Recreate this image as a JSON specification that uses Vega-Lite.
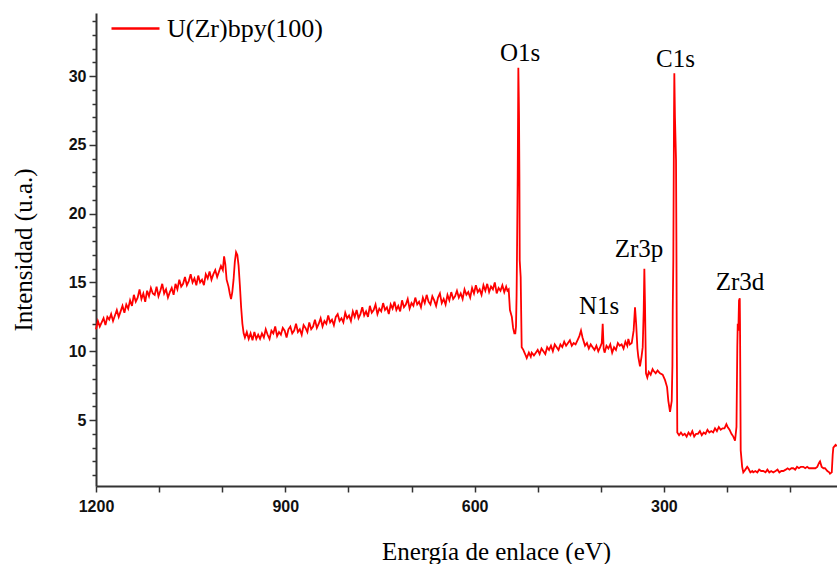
{
  "$schema": "https://vega.github.io/schema/vega-lite/v6.json",
  "width": 741,
  "height": 473,
  "autosize": {"type": "none"},
  "padding": {"left": 96, "top": 13, "right": 0, "bottom": 78},
  "background": "white",
  "config": {
    "view": {"stroke": null},
    "axis": {"grid": false, "labelOverlap": false, "labelSeparation": -40}
  },
  "datasets": {
    "spectrum": [
      {"e":1200,"i":11.6},{"e":1197,"i":12.2},{"e":1194,"i":11.8},{"e":1191,"i":12.1},{"e":1188,"i":12.4},{"e":1185,"i":11.9},{"e":1182,"i":12.5},{"e":1179,"i":12.3},{"e":1176,"i":12.7},{"e":1173,"i":12.2},{"e":1170,"i":12.6},{"e":1167,"i":13.0},{"e":1164,"i":12.5},{"e":1161,"i":12.9},{"e":1158,"i":13.3},{"e":1155,"i":12.8},{"e":1152,"i":13.4},{"e":1149,"i":13.1},{"e":1146,"i":13.7},{"e":1143,"i":13.3},{"e":1140,"i":14.1},{"e":1137,"i":13.6},{"e":1134,"i":13.9},{"e":1131,"i":14.5},{"e":1128,"i":13.8},{"e":1125,"i":14.2},{"e":1122,"i":13.6},{"e":1119,"i":14.4},{"e":1116,"i":14.0},{"e":1113,"i":14.6},{"e":1110,"i":14.2},{"e":1107,"i":14.1},{"e":1104,"i":14.7},{"e":1101,"i":14.0},{"e":1098,"i":14.4},{"e":1095,"i":14.9},{"e":1092,"i":14.2},{"e":1089,"i":14.5},{"e":1086,"i":13.9},{"e":1083,"i":14.3},{"e":1080,"i":14.6},{"e":1077,"i":14.1},{"e":1074,"i":14.9},{"e":1071,"i":14.5},{"e":1068,"i":15.2},{"e":1065,"i":14.7},{"e":1062,"i":14.9},{"e":1059,"i":15.4},{"e":1056,"i":14.8},{"e":1053,"i":15.1},{"e":1050,"i":15.6},{"e":1047,"i":15.0},{"e":1044,"i":15.3},{"e":1041,"i":14.8},{"e":1038,"i":15.5},{"e":1035,"i":15.0},{"e":1032,"i":15.2},{"e":1029,"i":14.8},{"e":1026,"i":15.6},{"e":1023,"i":15.3},{"e":1020,"i":15.8},{"e":1017,"i":15.2},{"e":1014,"i":15.6},{"e":1011,"i":15.9},{"e":1008,"i":15.4},{"e":1005,"i":15.8},{"e":1002,"i":16.2},{"e":999,"i":15.9},{"e":997,"i":16.9},{"e":995,"i":16.3},{"e":993,"i":15.2},{"e":990,"i":14.7},{"e":988,"i":14.2},{"e":986,"i":13.8},{"e":984,"i":14.3},{"e":982,"i":15.2},{"e":980,"i":16.5},{"e":978,"i":17.2},{"e":976,"i":17.0},{"e":974,"i":16.2},{"e":972,"i":14.8},{"e":970,"i":13.2},{"e":968,"i":12.0},{"e":966,"i":11.3},{"e":964,"i":11.0},{"e":961,"i":11.4},{"e":958,"i":10.9},{"e":955,"i":11.3},{"e":952,"i":10.8},{"e":949,"i":11.4},{"e":946,"i":10.9},{"e":943,"i":11.2},{"e":940,"i":10.9},
      {"e":937,"i":11.3},{"e":934,"i":11.0},{"e":931,"i":11.6},{"e":928,"i":11.2},{"e":925,"i":10.9},{"e":922,"i":11.5},{"e":919,"i":11.3},{"e":916,"i":11.8},{"e":913,"i":11.1},{"e":910,"i":11.4},{"e":907,"i":11.2},{"e":904,"i":11.7},{"e":901,"i":11.5},{"e":898,"i":11.0},{"e":895,"i":11.6},{"e":892,"i":11.8},{"e":889,"i":11.3},{"e":886,"i":11.5},{"e":883,"i":12.0},{"e":880,"i":11.4},{"e":877,"i":11.6},{"e":874,"i":11.2},{"e":871,"i":11.9},{"e":868,"i":11.7},{"e":865,"i":11.4},{"e":862,"i":12.1},{"e":859,"i":11.6},{"e":856,"i":11.8},{"e":853,"i":12.3},{"e":850,"i":11.7},{"e":847,"i":12.0},{"e":844,"i":12.4},{"e":841,"i":11.8},{"e":838,"i":12.2},{"e":835,"i":12.0},{"e":832,"i":12.6},{"e":829,"i":12.1},{"e":826,"i":12.3},{"e":823,"i":11.9},{"e":820,"i":12.5},{"e":817,"i":12.7},{"e":814,"i":12.2},{"e":811,"i":12.4},{"e":808,"i":12.1},{"e":805,"i":12.8},{"e":802,"i":12.4},{"e":799,"i":12.6},{"e":796,"i":12.2},{"e":793,"i":12.9},{"e":790,"i":12.5},{"e":787,"i":13.0},{"e":784,"i":12.4},{"e":781,"i":12.7},{"e":778,"i":13.2},{"e":775,"i":12.6},{"e":772,"i":12.9},{"e":769,"i":12.5},{"e":766,"i":13.3},{"e":763,"i":12.8},{"e":760,"i":13.0},{"e":757,"i":13.4},{"e":754,"i":12.7},{"e":751,"i":13.1},{"e":748,"i":12.9},{"e":745,"i":13.5},{"e":742,"i":13.0},{"e":739,"i":13.2},{"e":736,"i":12.7},{"e":733,"i":13.4},{"e":730,"i":13.1},{"e":727,"i":13.6},{"e":724,"i":13.0},{"e":721,"i":13.3},{"e":718,"i":12.9},{"e":715,"i":13.7},{"e":712,"i":13.2},{"e":709,"i":13.4},{"e":706,"i":13.8},{"e":703,"i":13.1},{"e":700,"i":13.5},{"e":697,"i":13.3},{"e":694,"i":13.9},{"e":691,"i":13.4},{"e":688,"i":13.6},{"e":685,"i":13.2},{"e":682,"i":13.9},{"e":679,"i":13.5},{"e":676,"i":14.1},{"e":673,"i":13.6},{"e":670,"i":13.4},{"e":667,"i":14.0},{"e":664,"i":13.7},{"e":661,"i":13.3},{"e":658,"i":13.9},{"e":655,"i":14.2},{"e":652,"i":13.5},{"e":649,"i":13.8},{"e":646,"i":13.4},{"e":643,"i":14.1},{"e":640,"i":13.7},{"e":637,"i":14.3},{"e":634,"i":13.8},{"e":631,"i":14.0},{"e":628,"i":14.4},{"e":625,"i":13.9},{"e":622,"i":14.2},{"e":619,"i":13.8},{"e":616,"i":14.5},{"e":613,"i":14.1},{"e":610,"i":14.3},{"e":607,"i":13.9},{"e":604,"i":14.6},{"e":601,"i":14.2},{"e":598,"i":14.8},{"e":595,"i":14.3},{"e":592,"i":14.5},{"e":589,"i":14.1},{"e":586,"i":14.8},{"e":583,"i":14.4},{"e":580,"i":14.9},{"e":577,"i":14.3},{"e":574,"i":14.7},{"e":571,"i":14.5},{"e":568,"i":15.0},{"e":565,"i":14.2},{"e":562,"i":14.6},{"e":559,"i":14.4},{"e":556,"i":14.8},{"e":553,"i":14.3},{"e":550,"i":14.7},{"e":548,"i":14.4},{"e":546,"i":14.5},
      {"e":544,"i":13.0},{"e":541,"i":12.5},{"e":539,"i":11.7},{"e":537,"i":11.3},{"e":535.5,"i":11.3},{"e":534.4,"i":11.8},{"e":533.5,"i":14.0},{"e":532.8,"i":17.1},{"e":531.7,"i":22.7},{"e":530.7,"i":30.6},{"e":530,"i":28.5},{"e":529.6,"i":27.0},{"e":529,"i":22.7},{"e":528.5,"i":16.6},{"e":527,"i":15.4},{"e":525.4,"i":10.3},{"e":522.8,"i":10.1},
      {"e":520,"i":9.8},{"e":517.4,"i":9.5},{"e":514,"i":9.9},{"e":511,"i":9.6},{"e":509.5,"i":9.9},{"e":506,"i":9.7},{"e":503,"i":9.9},{"e":500,"i":10.1},{"e":497,"i":9.8},{"e":494,"i":10.2},{"e":491,"i":10.0},{"e":488,"i":9.8},{"e":485,"i":10.3},{"e":482,"i":10.1},{"e":479,"i":10.4},{"e":476,"i":10.0},{"e":473,"i":10.5},{"e":470,"i":10.3},{"e":467,"i":10.1},{"e":464,"i":10.5},{"e":461,"i":10.3},{"e":458,"i":10.7},{"e":455,"i":10.4},{"e":452,"i":10.6},{"e":449,"i":10.8},{"e":446,"i":10.4},{"e":443,"i":10.6},{"e":440,"i":10.5},{"e":437,"i":10.8},{"e":434,"i":11.1},{"e":431.4,"i":11.5},{"e":429,"i":11.0},{"e":427,"i":10.7},{"e":425,"i":10.4},{"e":422,"i":10.6},{"e":419,"i":10.2},{"e":416,"i":10.5},{"e":413,"i":10.3},{"e":410,"i":10.1},{"e":407,"i":10.4},{"e":404,"i":10.0},{"e":401,"i":10.3},{"e":398.5,"i":10.6},{"e":397,"i":12.0},{"e":395.5,"i":10.2},{"e":394,"i":9.9},{"e":391,"i":10.4},{"e":388,"i":10.2},{"e":385,"i":10.5},{"e":382,"i":9.9},{"e":379,"i":10.3},{"e":376,"i":10.1},{"e":373,"i":10.6},{"e":370,"i":10.4},{"e":367,"i":10.5},{"e":364,"i":10.2},{"e":361,"i":10.7},{"e":358,"i":10.4},{"e":356.4,"i":10.9},{"e":354,"i":10.5},{"e":351,"i":10.6},{"e":348,"i":11.5},{"e":345.8,"i":13.2},{"e":344,"i":12.0},{"e":342,"i":10.2},{"e":340.6,"i":9.6},{"e":337.9,"i":8.9},{"e":335.5,"i":9.6},{"e":333.6,"i":10.3},{"e":332,"i":13.0},{"e":331,"i":16.0},{"e":330,"i":13.5},{"e":328.4,"i":8.4},{"e":326.3,"i":8.1},{"e":324,"i":8.5},{"e":321,"i":8.3},{"e":318,"i":8.7},{"e":316.8,"i":8.6},{"e":313,"i":8.4},{"e":310,"i":8.6},{"e":306.2,"i":8.4},{"e":302,"i":8.3},{"e":298.2,"i":7.9},{"e":295,"i":7.4},{"e":293,"i":6.4},{"e":290.3,"i":5.6},{"e":287.6,"i":6.4},{"e":286.5,"i":9.0},{"e":286,"i":13.0},{"e":285.1,"i":16.6},{"e":284,"i":27.0},{"e":283.5,"i":30.2},{"e":282.5,"i":27.0},{"e":280.8,"i":23.9},{"e":280.2,"i":18.0},{"e":279.7,"i":11.8},{"e":278.8,"i":4.1},{"e":276,"i":3.9},{"e":273,"i":4.1},{"e":270,"i":3.9},{"e":267,"i":4.0},{"e":264,"i":3.8},{"e":261,"i":4.1},{"e":258,"i":3.9},{"e":255,"i":4.2},{"e":252,"i":3.8},{"e":249,"i":4.0},{"e":246,"i":4.0},{"e":243,"i":4.2},{"e":240,"i":3.9},{"e":237,"i":4.1},{"e":234,"i":4.0},{"e":231,"i":4.3},{"e":228,"i":4.1},{"e":225,"i":4.2},{"e":222,"i":4.1},{"e":219,"i":4.4},{"e":216,"i":4.2},{"e":213,"i":4.5},{"e":210,"i":4.3},{"e":207,"i":4.4},{"e":204,"i":4.4},{"e":201,"i":4.7},{"e":199,"i":4.5},{"e":196,"i":4.3},{"e":193,"i":4.0},{"e":190,"i":3.8},{"e":187.3,"i":3.5},{"e":185,"i":4.5},{"e":183.7,"i":10.3},{"e":183,"i":12.0},{"e":182,"i":11.5},{"e":181,"i":13.7},{"e":179.8,"i":13.85},{"e":179.4,"i":12.0},{"e":178.3,"i":2.8},{"e":176,"i":1.6},{"e":174.2,"i":1.2},{"e":171,"i":1.4},{"e":168,"i":1.6},{"e":166.3,"i":1.5},{"e":163,"i":1.2},{"e":160,"i":1.3},{"e":158.4,"i":1.2},{"e":155,"i":1.3},{"e":152,"i":1.2},{"e":149,"i":1.4},{"e":146,"i":1.3},{"e":142.5,"i":1.3},{"e":139,"i":1.2},{"e":136,"i":1.4},{"e":133,"i":1.2},{"e":130,"i":1.3},{"e":126.7,"i":1.2},{"e":123,"i":1.3},{"e":120,"i":1.4},{"e":117,"i":1.2},{"e":114,"i":1.3},{"e":110.8,"i":1.3},{"e":107,"i":1.4},{"e":104,"i":1.5},{"e":101,"i":1.4},{"e":98,"i":1.5},{"e":95,"i":1.5},{"e":92,"i":1.4},{"e":89,"i":1.6},{"e":86,"i":1.5},{"e":83,"i":1.6},{"e":79.1,"i":1.6},{"e":76,"i":1.5},{"e":73,"i":1.6},{"e":70,"i":1.5},{"e":67,"i":1.5},{"e":63.3,"i":1.5},{"e":60,"i":1.5},{"e":57,"i":1.6},{"e":54,"i":1.9},{"e":52.6,"i":2.0},{"e":50,"i":1.6},{"e":47,"i":1.5},{"e":44.7,"i":1.5},{"e":41,"i":1.3},{"e":38,"i":1.2},{"e":36.8,"i":1.1},{"e":34,"i":1.2},{"e":32.5,"i":2.5},{"e":31.5,"i":3.0},{"e":28,"i":3.2},{"e":26,"i":3.1}
    ],
    "peaks": [
      {"e":528.0,"i":31.09,"label":"O1s"},
      {"e":281.6,"i":30.67,"label":"C1s"},
      {"e":339.4,"i":16.86,"label":"Zr3p"},
      {"e":402.8,"i":12.74,"label":"N1s"},
      {"e":179.4,"i":14.43,"label":"Zr3d"}
    ]
  },
  "layer": [
    {
      "mark": {"type": "rect", "fill": null, "stroke": "#c8c8c8", "strokeWidth": 1, "clip": false},
      "encoding": {
        "x": {"datum": 1253.9, "type": "quantitative", "scale": {"domain": [25.7, 1200], "reverse": true, "zero": false, "nice": false}},
        "x2": {"datum": 0},
        "y": {"datum": -2.44, "type": "quantitative", "scale": {"domain": [0.21, 34.58], "zero": false, "nice": false}},
        "y2": {"datum": 34.58}
      }
    },
    {
      "data": {"name": "spectrum"},
      "mark": {"type": "line", "strokeWidth": 1.8, "interpolate": "linear"},
      "encoding": {
        "x": {
          "field": "e", "type": "quantitative",
          "scale": {"domain": [25.7, 1200], "reverse": true, "zero": false, "nice": false},
          "axis": {
            "values": [1200, 1100, 1000, 900, 800, 700, 600, 500, 400, 300, 200, 100],
            "tickCount": 40,
            "labelExpr": "datum.value % 300 === 0 ? '' + datum.value : ''",
            "labelFont": "Liberation Sans", "labelFontWeight": "bold", "labelFontSize": 16, "labelColor": "#111",
            "labelPadding": 6, "labelFlush": false, "labelOverlap": false, "labelSeparation": -40,
            "tickSize": 6, "tickWidth": 1.5, "tickColor": "#333",
            "domainColor": "#333", "domainWidth": 2,
            "title": "Energía de enlace (eV)",
            "titleFont": "Liberation Serif", "titleFontSize": 25, "titleFontWeight": "normal", "titleColor": "black",
            "titleX": 400, "titleY": 73, "titleAlign": "center", "titleBaseline": "alphabetic", "titleAnchor": null
          }
        },
        "y": {
          "field": "i", "type": "quantitative",
          "scale": {"domain": [0.21, 34.58], "zero": false, "nice": false},
          "axis": {
            "values": [1,2,3,4,5,6,7,8,9,10,11,12,13,14,15,16,17,18,19,20,21,22,23,24,25,26,27,28,29,30,31,32,33,34],
            "tickCount": 60,
            "labelExpr": "datum.value % 5 === 0 ? '' + datum.value : ''",
            "labelFont": "Liberation Sans", "labelFontWeight": "bold",
            "labelFontSize": 16,
            "labelColor": "#111",
            "labelPadding": 3, "labelOverlap": false, "labelSeparation": -40, "labelFlush": false,
            "tickSize": {"condition": {"test": "datum.value % 5 === 0", "value": 7}, "value": 4},
            "tickWidth": 1.5, "tickColor": "#333",
            "domainColor": "#333", "domainWidth": 2,
            "title": "Intensidad (u.a.)",
            "titleFont": "Liberation Serif", "titleFontSize": 25, "titleFontWeight": "normal", "titleColor": "black",
            "titleX": -65, "titleBaseline": "alphabetic"
          }
        },
        "color": {
          "datum": "U(Zr)bpy(100)",
          "scale": {"range": ["#ff0000"]},
          "legend": {
            "orient": "none", "legendX": 14, "legendY": -10, "title": null, "padding": 0,
            "symbolType": "stroke", "symbolSize": 2304, "symbolStrokeWidth": 2.5,
            "labelFont": "Liberation Serif", "labelFontSize": 26, "labelColor": "black",
            "labelOffset": 6, "labelLimit": 400
          }
        }
      }
    },
    {
      "data": {"name": "peaks"},
      "mark": {"type": "text", "font": "Liberation Serif", "fontSize": 25, "color": "black", "align": "center", "baseline": "alphabetic"},
      "encoding": {
        "x": {"field": "e", "type": "quantitative"},
        "y": {"field": "i", "type": "quantitative"},
        "text": {"field": "label"}
      }
    }
  ]
}
